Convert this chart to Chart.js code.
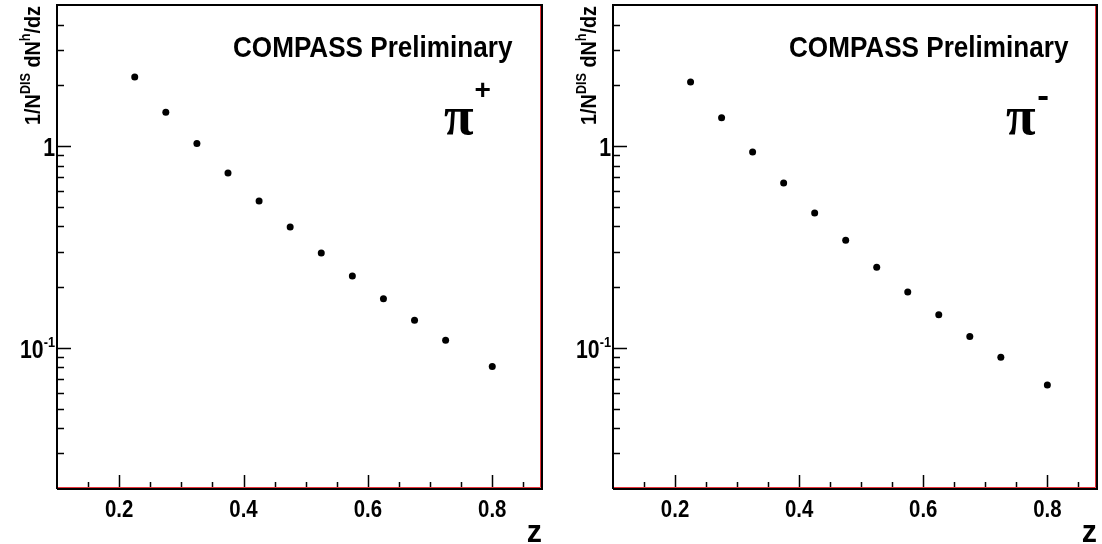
<!DOCTYPE html>
<html>
<head>
<meta charset="utf-8">
<script src="https://cdn.jsdelivr.net/npm/chart.js@4"></script>
<style>
  body { margin: 0; background: #fff; }
  .row { display: flex; width: 1102px; height: 544px; }
  canvas { display: block; }
</style>
</head>
<body>
<div class="row">
  <canvas id="chartPlus" width="551" height="544"></canvas>
  <canvas id="chartMinus" width="551" height="544"></canvas>
</div>
<script>
// z bin centres (last bin is 0.75-0.85)
const zBins = [0.225, 0.275, 0.325, 0.375, 0.425, 0.475, 0.525, 0.575, 0.625, 0.675, 0.725, 0.80];
// 1/N^DIS dN^h/dz
const piPlus = [2.20, 1.47, 1.03, 0.735, 0.534, 0.397, 0.295, 0.227, 0.175, 0.137, 0.109, 0.081];
const piMinus = [2.08, 1.38, 0.934, 0.656, 0.466, 0.342, 0.251, 0.189, 0.146, 0.114, 0.090, 0.0655];

const xTicks = [0.2, 0.4, 0.6, 0.8];
const xTickLabels = ['0.2', '0.4', '0.6', '0.8'];
const xMinor = [0.15, 0.25, 0.3, 0.35, 0.45, 0.5, 0.55, 0.65, 0.7, 0.75, 0.85];
const yTicks = [0.1, 1];
const yTickLabels = [['10', '-1'], ['1', '']];
const yMinor = [0.03, 0.04, 0.05, 0.06, 0.07, 0.08, 0.09, 0.2, 0.3, 0.4, 0.5, 0.6, 0.7, 0.8, 0.9, 2, 3, 4];

const FONT = '"Liberation Sans", Arial, Helvetica, sans-serif';

// draw text squeezed horizontally, like the narrow helvetica of the original
function narrowText(c, txt, x, y, sx, align) {
  const w = c.measureText(txt).width * sx;
  let x0 = x;
  if (align === 'center') x0 = x - w / 2;
  else if (align === 'right') x0 = x - w;
  c.save();
  c.textAlign = 'left';
  c.translate(x0, y);
  c.scale(sx, 1);
  c.fillText(txt, 0, 0);
  c.restore();
  return w;
}

const rootStyle = {
  id: 'rootStyle',
  beforeDatasetsDraw(chart, args, opts) {
    const c = chart.ctx, a = chart.chartArea;
    const xs = chart.scales.x, ys = chart.scales.y;
    c.save();
    c.strokeStyle = '#000';
    c.lineWidth = 1.5;
    c.beginPath();
    yTicks.forEach(v => { const p = Math.round(ys.getPixelForValue(v)) + 0.5; c.moveTo(a.left, p); c.lineTo(a.left + 14, p); });
    yMinor.forEach(v => { const p = Math.round(ys.getPixelForValue(v)) + 0.5; c.moveTo(a.left, p); c.lineTo(a.left + 7, p); });
    xTicks.forEach(v => { const p = Math.round(xs.getPixelForValue(v)) + 0.5; c.moveTo(p, a.bottom); c.lineTo(p, a.bottom - 14); });
    xMinor.forEach(v => { const p = Math.round(xs.getPixelForValue(v)) + 0.5; c.moveTo(p, a.bottom); c.lineTo(p, a.bottom - 7); });
    c.stroke();
    // frame
    c.lineWidth = 2;
    c.beginPath();
    c.moveTo(a.left, a.bottom); c.lineTo(a.left, a.top); c.lineTo(a.right, a.top);
    c.lineTo(a.right, a.bottom); c.lineTo(a.left, a.bottom);
    c.stroke();
    c.strokeStyle = '#e8333a';
    c.lineWidth = 1;
    c.beginPath();
    c.moveTo(a.left + 1, a.bottom - 1.5); c.lineTo(a.right - 1.5, a.bottom - 1.5); c.lineTo(a.right - 1.5, a.top + 1);
    c.stroke();
    c.restore();
  },
  afterDraw(chart, args, opts) {
    const c = chart.ctx, a = chart.chartArea;
    const xs = chart.scales.x, ys = chart.scales.y;
    c.save();
    c.fillStyle = '#000';
    c.textBaseline = 'alphabetic';
    // x tick labels
    c.font = 'bold 24px ' + FONT;
    xTicks.forEach((v, i) => narrowText(c, xTickLabels[i], xs.getPixelForValue(v), a.bottom + 28, 0.85, 'center'));
    // y tick labels with exponent
    yTicks.forEach((v, i) => {
      const [base, exp] = yTickLabels[i];
      const p = ys.getPixelForValue(v);
      let we = 0;
      if (exp) {
        c.font = 'bold 15px ' + FONT;
        we = narrowText(c, exp, a.left - 2, p - 1, 0.85, 'right');
      }
      c.font = 'bold 25px ' + FONT;
      narrowText(c, base, a.left - 2 - we, p + 10, 0.85, 'right');
    });
    // axis title z
    c.font = 'bold 32px ' + FONT;
    narrowText(c, 'z', a.right, 542, 0.95, 'right');
    // y axis title
    const parts = [['1/N', 22, 0], ['DIS', 14, -10], [' dN', 22, 0], ['h', 14, -10], ['/dz', 22, 0]];
    let total = 0;
    parts.forEach(([t, s]) => { c.font = 'bold ' + s + 'px ' + FONT; total += c.measureText(t).width * 0.9; });
    c.translate(opts.titleX, 6 + total);
    c.rotate(-Math.PI / 2);
    let x = 0;
    parts.forEach(([t, s, dy]) => { c.font = 'bold ' + s + 'px ' + FONT; x += narrowText(c, t, x, dy, 0.9, 'left'); });
    c.setTransform(1, 0, 0, 1, 0, 0);
    // labels
    c.font = 'bold 30px ' + FONT;
    narrowText(c, 'COMPASS Preliminary', a.left + 176, 57, 0.87, 'left');
    c.font = 'bold 54px "Liberation Serif", "DejaVu Serif", serif';
    c.textAlign = 'left';
    c.fillText('\u03C0', opts.piX, 134);
    const pw = c.measureText('\u03C0').width;
    if (opts.sign === '+') {
      c.font = 'bold 28px ' + FONT;
      c.fillText('+', opts.piX + pw + 1, 99);
    } else {
      c.fillRect(opts.piX + pw + 3, 96, 9, 4);
    }
    c.restore();
  }
};

function makeChart(id, values, pad, opts) {
  return new Chart(document.getElementById(id), {
    type: 'scatter',
    data: {
      datasets: [{
        data: zBins.map((z, i) => ({ x: z, y: values[i] })),
        backgroundColor: '#000',
        borderColor: '#000',
        pointRadius: 3.5,
        pointBorderWidth: 0
      }]
    },
    options: {
      responsive: false,
      animation: false,
      devicePixelRatio: 1,
      layout: { padding: pad, autoPadding: false },
      scales: {
        x: { type: 'linear', min: 0.1, max: 0.88, display: false },
        y: { type: 'logarithmic', min: 0.02, max: 5, display: false }
      },
      plugins: {
        legend: { display: false },
        tooltip: { enabled: false },
        rootStyle: opts
      }
    },
    plugins: [rootStyle]
  });
}

makeChart('chartPlus', piPlus, { left: 57, top: 5, right: 9, bottom: 55 }, { titleX: 40, piX: 444, sign: '+' });
makeChart('chartMinus', piMinus, { left: 62, top: 5, right: 5, bottom: 55 }, { titleX: 45, piX: 455, sign: '-' });
</script>
</body>
</html>
